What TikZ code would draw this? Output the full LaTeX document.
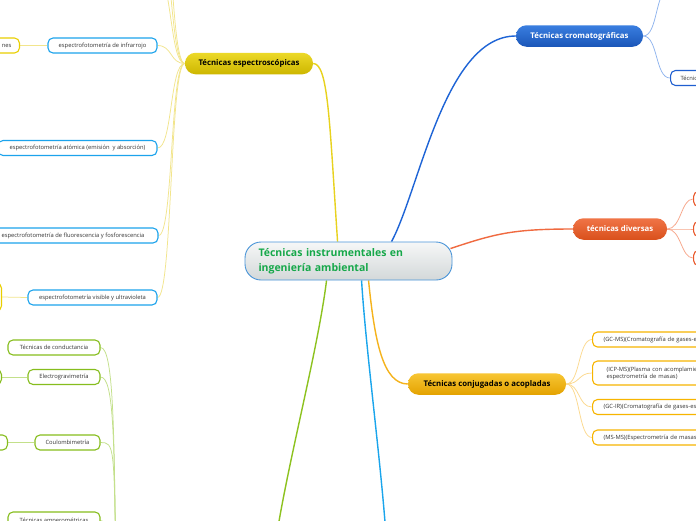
\documentclass[tikz,border=0pt]{standalone}
\usepackage{fontspec}
\setmainfont{Open Sans}
\usetikzlibrary{calc}
\pgfdeclarelayer{bg}
\pgfsetlayers{bg,main}
\definecolor{yelT}{HTML}{ECD928}
\definecolor{yelB}{HTML}{CDB600}
\definecolor{yelM}{HTML}{E8D21E}
\definecolor{yelL}{HTML}{F2E58C}
\definecolor{yelBd}{HTML}{E9CF00}
\definecolor{cyaBd}{HTML}{1CA3EC}
\definecolor{cyaM}{HTML}{1AA5EC}
\definecolor{bluT}{HTML}{3A7EE0}
\definecolor{bluB}{HTML}{1A56B8}
\definecolor{bluM}{HTML}{1E64D6}
\definecolor{bluL}{HTML}{8FB4EE}
\definecolor{bluBd}{HTML}{1F5FD0}
\definecolor{redT}{HTML}{F07446}
\definecolor{redB}{HTML}{D9501C}
\definecolor{redM}{HTML}{F06A40}
\definecolor{redL}{HTML}{F7A68A}
\definecolor{redBd}{HTML}{E9582A}
\definecolor{oraT}{HTML}{F8C634}
\definecolor{oraB}{HTML}{E3A200}
\definecolor{oraM}{HTML}{F5B31C}
\definecolor{oraL}{HTML}{FCD98E}
\definecolor{oraBd}{HTML}{F7B500}
\definecolor{greM}{HTML}{8DC21F}
\definecolor{greBd}{HTML}{86BD1D}
\definecolor{greL}{HTML}{C3E08A}
\definecolor{cenT}{HTML}{F6F7F7}
\definecolor{cenB}{HTML}{D3D8D9}
\definecolor{cenBd}{HTML}{4A95D8}
\definecolor{cenTx}{HTML}{16A84A}
\definecolor{txt}{HTML}{333333}
\newcommand\smallf{\fontsize{5.8}{7}\selectfont}
\newcommand\headf{\fontsize{7.8}{9}\selectfont\bfseries}
\begin{document}
\begin{tikzpicture}[x=1pt,y=-1pt,
  cen/.style={draw=cenBd, line width=0.9pt, top color=cenT, bottom color=cenB,
    rounded corners=16pt, minimum height=38pt, text width=180pt, align=left,
    inner xsep=13.5pt, inner ysep=0pt, font=\fontsize{10.5}{14.5}\selectfont\bfseries, text=cenTx},
  pill/.style={rounded corners=10.5pt, minimum height=21.5pt, inner sep=0pt, font=\headf, text=black},
  chbox/.style={fill=white, line width=1.1pt, rounded corners=5pt, minimum height=15pt,
    inner ysep=0pt, inner xsep=4pt, font=\smallf, text=txt},
  chc/.style={chbox, draw=cyaBd},
  chy/.style={chbox, draw=yelBd},
  chg/.style={chbox, draw=greBd},
  chb/.style={chbox, draw=bluBd},
  cho/.style={chbox, draw=redBd},
  choj/.style={chbox, draw=oraBd, anchor=west, text width=240pt, align=left},
  br/.style={line width=1.4pt},
  thin/.style={line width=0.75pt}]
\useasboundingbox (0,0) rectangle (696,520);
\clip (0,0) rectangle (696,520);

% central
\node[cen] (c) at (348.5,261) {Técnicas instrumentales en\\ingeniería ambiental};

% main topics
\node[pill, top color=yelT, bottom color=yelB, minimum width=128pt] (spec) at (249,63.5) {Técnicas espectroscópicas};
\node[pill, top color=bluT, bottom color=bluB, text=white, minimum width=127pt] (crom) at (579.5,36) {Técnicas cromatográficas};
\node[pill, top color=redT, bottom color=redB, text=white, minimum width=94pt] (div) at (620,229) {técnicas diversas};
\node[pill, top color=oraT, bottom color=oraB, minimum width=158pt] (conj) at (487,384) {Técnicas conjugadas o acopladas};

% spectroscopic children
\node[chc, minimum width=109pt] (ir) at (102.5,45.5) {espectrofotometría de infrarrojo};
\node[chc, minimum width=159pt] (aa) at (77.5,148) {espectrofotometría atómica (emisión \ y absorción)};
\node[chc, minimum width=170pt] (fl) at (73,235.5) {espectrofotometría de fluorescencia y fosforescencia};
\node[chc, minimum width=129pt] (uv) at (92.5,297.5) {espectrofotometría visible y ultravioleta};
\node[chy, anchor=east, text width=35pt, align=right, inner xsep=8pt] (nes) at (20,45.5) {nes};
\node[chy, anchor=east, minimum width=40pt, minimum height=28pt] (ygc) at (2,297) {};
\coordinate (u1) at (157,-25);
\coordinate (u2) at (157,-70);
\coordinate (u3) at (157,-130);

% electrochemical children
\node[chg, minimum width=92pt] (cond) at (54,347.5) {Técnicas de conductancia};
\node[chg, minimum width=72pt] (eg) at (64,377) {Electrogravimetría};
\node[chg, minimum width=65pt] (cou) at (67.5,442.5) {Coulombimetría};
\node[chg, minimum width=92pt, minimum height=17pt] (amp) at (54,520.5) {Técnicas amperométricas};
\node[chg, anchor=east, minimum width=40pt] (eg2) at (2,377) {};
\node[chg, anchor=east, minimum width=40pt] (cou2) at (8,442.5) {};
\coordinate (gpar) at (116,575);
\coordinate (gmain) at (272,570);
\coordinate (cmain) at (388,570);

% chromatographic children
\node[chb, anchor=west, inner xsep=10pt] (tec) at (670,78) {Técnicas};
\coordinate (cu) at (670,-12);

% diverse children
\node[cho, anchor=west, minimum width=40pt] (d1) at (693,199) {};
\node[cho, anchor=west, minimum width=40pt] (d2) at (693,229) {};
\node[cho, anchor=west, minimum width=40pt] (d3) at (693,258) {};

% coupled children
\node[choj, inner xsep=11pt] (g1) at (592,339.5) {(GC-MS)(Cromatografía de gases-espectrometría de masas)};
\node[choj, inner xsep=14pt, minimum height=24pt] (g2) at (592,373) {(ICP-MS)(Plasma con acomplamiento inductivo-\\espectrometría de masas)};
\node[choj, inner xsep=11pt] (g3) at (592,407) {(GC-IR)(Cromatografía de gases-espectrometría de infrarrojo)};
\node[choj, inner xsep=11pt] (g4) at (592,437.5) {(MS-MS)(Espectrometría de masas-espectrometría de masas)};

\begin{pgfonlayer}{bg}
\fill[white] (0,0) rectangle (696,520);
% main branches
\draw[br, yelM] ($(c.north west)+(93,0)$) .. controls +(-8,-120) and +(15,0) .. (spec.east);
\draw[br, bluM] ($(c.north west)+(147,0)$) .. controls +(28,-52) and +(-71,0) .. (crom.west);
\draw[br, redM] ($(c.north east)+(-2,7)$) .. controls +(45,-15) and +(-60,0) .. (div.west);
\draw[br, oraM] ($(c.south west)+(124,0)$) .. controls +(6,60) and +(-25,0) .. (conj.west);
\draw[br, greM] ($(c.south west)+(82,0)$) .. controls +(-10,80) and +(8,-80) .. (gmain);
\draw[br, cyaM] ($(c.south west)+(117,0)$) .. controls +(5,80) and +(-3,-80) .. (cmain);
% spectroscopic
\foreach \t in {ir,aa,fl,uv,u1,u2,u3}
  \draw[thin, yelL] (spec.west) .. controls +(-15,0) and +(15,0) .. (\t.east);
\draw[thin, yelL] (ir.west) -- (nes.east);
\draw[thin, yelL] (uv.west) -- (ygc.east);
% electrochemical
\foreach \t in {cond,eg,cou}
  \draw[thin, greL] (\t.east) .. controls +(14,0) and +(-2,-130) .. (gpar);
\draw[thin, greL] (amp.east) .. controls +(10,0) and +(0,-25) .. (gpar);
\draw[thin, greL] (eg.west) -- (eg2.east);
\draw[thin, greL] (cou.west) -- (cou2.east);
% chromatographic
\draw[thin, bluL] (crom.east) .. controls +(15,0) and +(-15,0) .. (tec.west);
\draw[thin, bluL] (crom.east) .. controls +(15,0) and +(-15,0) .. (cu);
% diverse
\foreach \t in {d1,d2,d3}
  \draw[thin, redL] (div.east) .. controls +(14,0) and +(-12,0) .. (\t.west);
% coupled
\foreach \t in {g1,g2,g3,g4}
  \draw[thin, oraL] (conj.east) .. controls +(14,0) and +(-14,0) .. (\t.west);
\end{pgfonlayer}
\end{tikzpicture}
\end{document}
